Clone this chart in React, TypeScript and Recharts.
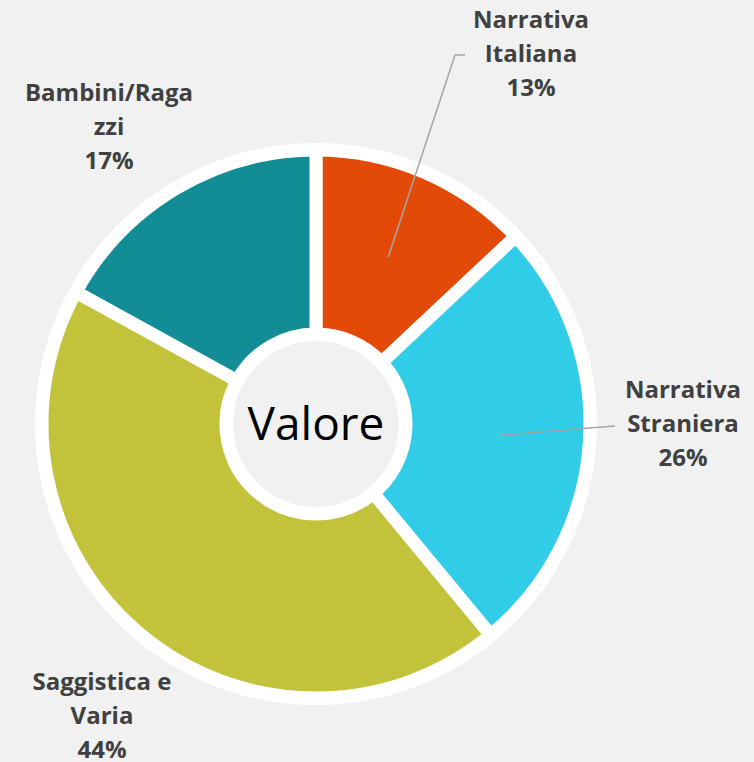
import React from "react";
import { PieChart, Pie, Cell } from "recharts";

const categories = ["Narrativa Italiana", "Narrativa Straniera", "Saggistica e Varia", "Bambini/Ragazzi"];
const values = [13, 26, 44, 17];
const labelLines = [
  ["Narrativa", "Italiana", "13%"],
  ["Narrativa", "Straniera", "26%"],
  ["Saggistica e", "Varia", "44%"],
  ["Bambini/Raga", "zzi", "17%"],
];
const colors = ["#E34A07", "#31CCE8", "#C2C23B", "#128D96"];

const data = categories.map((name, i) => ({ name, value: values[i] }));

// label layout relative to the pie centre
const labelLayout = [
  { dx: 215, dy: -396, leader: [[139, -369], [149, -369]] },
  { dx: 367, dy: -26, leader: [[299, 2]] },
  { dx: -214, dy: 266, leader: null },
  { dx: -207, dy: -323, leader: null },
];

const RAD = Math.PI / 180;
const CX = 316;
const CY = 424;

const renderLabel = (props: any) => {
  const { cx, cy, midAngle, innerRadius, outerRadius, index } = props;
  const lay = labelLayout[index];
  const lines = labelLines[index];
  const midR = (innerRadius + outerRadius) / 2;
  const sx = cx + midR * Math.cos(-midAngle * RAD);
  const sy = cy + midR * Math.sin(-midAngle * RAD);
  let path = "";
  if (lay.leader) {
    path = `M${sx},${sy}` + lay.leader.map((p) => ` L${cx + p[0]},${cy + p[1]}`).join("");
  }
  return (
    <g>
      {path && <path d={path} stroke="#A6A6A6" strokeWidth={1.5} fill="none" />}
      <text
        x={cx + lay.dx}
        y={cy + lay.dy}
        textAnchor="middle"
        fill="#404040"
        style={{ fontFamily: "'Open Sans', sans-serif", fontWeight: 700, fontSize: 24 }}
      >
        {lines.map((l, i) => (
          <tspan key={i} x={cx + lay.dx} dy={i === 0 ? 0 : 34}>
            {l}
          </tspan>
        ))}
      </text>
    </g>
  );
};

export default function App() {
  return (
    <div style={{ position: "fixed", left: 0, top: 0, width: 754, height: 762, background: "#F1F1F1" }}>
      <PieChart width={754} height={762} margin={{ top: 0, right: 0, bottom: 0, left: 0 }}>
        <Pie
          data={[{ name: "bg", value: 1 }]}
          dataKey="value"
          cx={CX}
          cy={CY}
          innerRadius={83}
          outerRadius={281}
          fill="#FFFFFF"
          stroke="none"
          isAnimationActive={false}
        />
        <Pie
          data={data}
          dataKey="value"
          nameKey="name"
          cx={CX}
          cy={CY}
          innerRadius={90}
          outerRadius={274}
          startAngle={90}
          endAngle={-270}
          stroke="#FFFFFF"
          strokeWidth={13}
          label={renderLabel}
          labelLine={false}
          isAnimationActive={false}
        >
          {data.map((d, i) => (
            <Cell key={d.name} fill={colors[i]} stroke="#FFFFFF" strokeWidth={13} />
          ))}
        </Pie>
        <text
          x={CX}
          y={CY + 16}
          textAnchor="middle"
          fill="#000000"
          style={{ fontFamily: "'Open Sans', sans-serif", fontSize: 46 }}
        >
          Valore
        </text>
      </PieChart>
    </div>
  );
}
